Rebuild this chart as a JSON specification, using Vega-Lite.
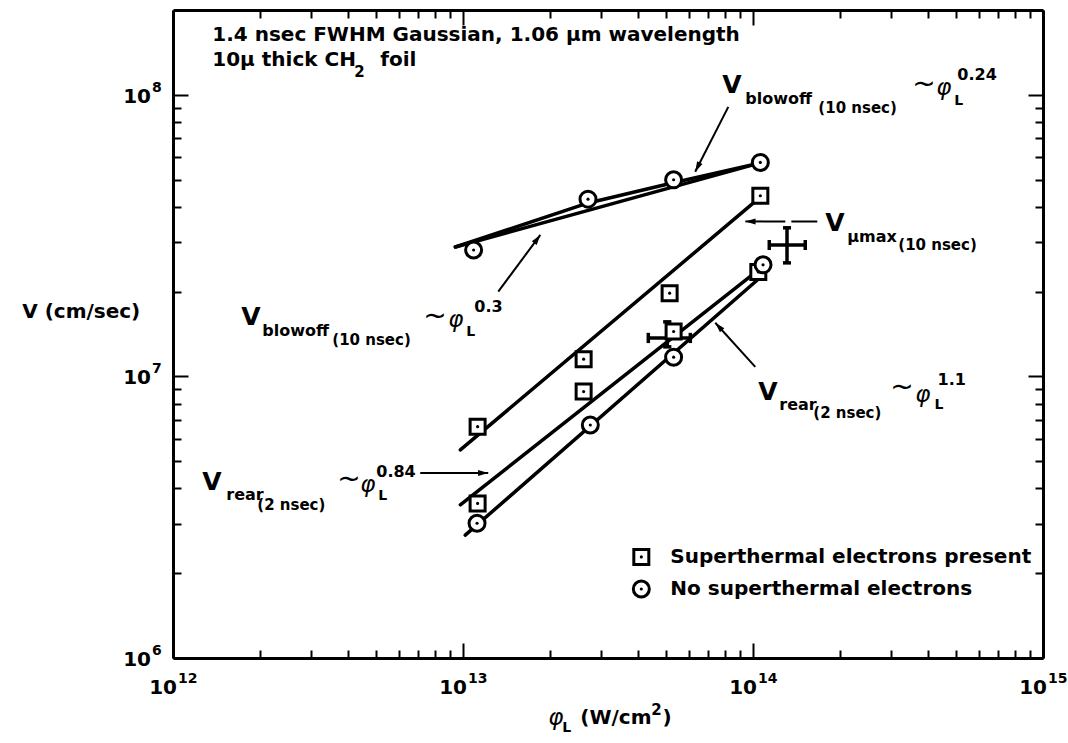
{
  "$schema": "https://vega.github.io/schema/vega-lite/v6.json",
  "width": 870,
  "height": 648,
  "autosize": {"type": "none"},
  "padding": {"left": 173, "top": 10, "right": 25, "bottom": 85},
  "background": "white",
  "config": {"view": {"stroke": null}, "font": "DejaVu Sans"},
  "datasets": {
    "pts": [
      {"x": 1.06e14, "y": 4.38e7, "kind": "square"},
      {"x": 5.158e13, "y": 1.975e7, "kind": "square"},
      {"x": 2.606e13, "y": 1.151e7, "kind": "square"},
      {"x": 1.123e13, "y": 6.63e6, "kind": "square"},
      {"x": 5.324e13, "y": 1.443e7, "kind": "square"},
      {"x": 2.606e13, "y": 8.83e6, "kind": "square"},
      {"x": 1.123e13, "y": 3.54e6, "kind": "square"},
      {"x": 1.043e14, "y": 2.35e7, "kind": "square"},
      {"x": 1.088e13, "y": 2.81e7, "kind": "circle"},
      {"x": 2.698e13, "y": 4.26e7, "kind": "circle"},
      {"x": 5.324e13, "y": 4.99e7, "kind": "circle"},
      {"x": 1.06e14, "y": 5.75e7, "kind": "circle"},
      {"x": 1.083e14, "y": 2.49e7, "kind": "circle"},
      {"x": 5.324e13, "y": 1.17e7, "kind": "circle"},
      {"x": 2.748e13, "y": 6.72e6, "kind": "circle"},
      {"x": 1.118e13, "y": 3.01e6, "kind": "circle"}
    ],
    "legend": [
      {"x": 4.12e13, "y": 2.285e6, "kind": "square", "label": "Superthermal electrons present"},
      {"x": 4.12e13, "y": 1.758e6, "kind": "circle", "label": "No superthermal electrons"}
    ],
    "fits": [
      {"series": "A", "x": 9.41e12, "y": 2.88e7},
      {"series": "A", "x": 1.06e14, "y": 5.73e7},
      {"series": "B", "x": 9.41e12, "y": 2.88e7},
      {"series": "B", "x": 2.704e13, "y": 4.13e7},
      {"series": "B", "x": 5.31e13, "y": 4.87e7},
      {"series": "B", "x": 1.06e14, "y": 5.73e7},
      {"series": "C", "x": 9.79e12, "y": 5.48e6},
      {"series": "C", "x": 1.035e14, "y": 4.24e7},
      {"series": "D", "x": 9.79e12, "y": 3.5e6},
      {"series": "D", "x": 1.035e14, "y": 2.37e7},
      {"series": "E", "x": 1.018e13, "y": 2.73e6},
      {"series": "E", "x": 1.035e14, "y": 2.2e7}
    ],
    "arrows": [
      {"id": "a", "x": 8.22e13, "y": 9.06e7},
      {"id": "a", "x": 6.32e13, "y": 5.33e7},
      {"id": "b", "x": 1.323e13, "y": 2.0e7},
      {"id": "b", "x": 1.848e13, "y": 3.18e7},
      {"id": "c", "x": 1.666e14, "y": 3.55e7},
      {"id": "c", "x": 9.41e13, "y": 3.55e7},
      {"id": "d", "x": 7.12e12, "y": 4.54e6},
      {"id": "d", "x": 1.222e13, "y": 4.54e6},
      {"id": "e", "x": 1.018e14, "y": 1.081e7},
      {"id": "e", "x": 7.41e13, "y": 1.55e7}
    ],
    "heads": [
      {"x": 6.32e13, "y": 5.33e7, "angle": 206.9},
      {"x": 1.848e13, "y": 3.18e7, "angle": 36.5},
      {"x": 9.41e13, "y": 3.55e7, "angle": 270},
      {"x": 1.222e13, "y": 4.54e6, "angle": 90},
      {"x": 7.41e13, "y": 1.55e7, "angle": 317.5}
    ],
    "errs": [
      {"x": 1.138e14, "x2": 1.514e14, "y": 2.93e7, "y2": 2.93e7},
      {"x": 1.31e14, "x2": 1.31e14, "y": 2.53e7, "y2": 3.37e7},
      {"x": 1.138e14, "x2": 1.138e14, "y": 2.81e7, "y2": 3.05e7},
      {"x": 1.514e14, "x2": 1.514e14, "y": 2.81e7, "y2": 3.05e7},
      {"x": 1.269e14, "x2": 1.352e14, "y": 2.53e7, "y2": 2.53e7},
      {"x": 1.269e14, "x2": 1.352e14, "y": 3.37e7, "y2": 3.37e7},
      {"x": 4.355e13, "x2": 6.08e13, "y": 1.37e7, "y2": 1.37e7},
      {"x": 5.065e13, "x2": 5.065e13, "y": 1.273e7, "y2": 1.562e7},
      {"x": 4.355e13, "x2": 4.355e13, "y": 1.313e7, "y2": 1.428e7},
      {"x": 6.08e13, "x2": 6.08e13, "y": 1.313e7, "y2": 1.428e7},
      {"x": 4.9e13, "x2": 5.23e13, "y": 1.273e7, "y2": 1.273e7},
      {"x": 4.9e13, "x2": 5.23e13, "y": 1.562e7, "y2": 1.562e7}
    ],
    "xticks": [
      {"x": 1e12, "y": 1e6, "e": "12"},
      {"x": 1e13, "y": 1e6, "e": "13"},
      {"x": 1e14, "y": 1e6, "e": "14"},
      {"x": 1e15, "y": 1e6, "e": "15"}
    ],
    "yticks": [
      {"x": 1e12, "y": 1e6, "e": "6"},
      {"x": 1e12, "y": 1e7, "e": "7"},
      {"x": 1e12, "y": 1e8, "e": "8"}
    ],
    "labels": [
      {"x": 7.84e13, "y": 1.085e8, "text": "V", "role": "V"},
      {"x": 9.41e13, "y": 9.68e7, "text": "blowoff", "role": "sub"},
      {"x": 1.68e14, "y": 8.99e7, "text": "(10 nsec)", "role": "sub2"},
      {"x": 3.542e14, "y": 1.085e8, "text": "~", "role": "tilde"},
      {"x": 4.287e14, "y": 1.059e8, "text": "φ", "role": "phi"},
      {"x": 4.945e14, "y": 9.52e7, "text": "L", "role": "L"},
      {"x": 5.065e14, "y": 1.178e8, "text": "0.24", "role": "exp"},
      {"x": 1.72e12, "y": 1.627e7, "text": "V", "role": "V"},
      {"x": 2.032e12, "y": 1.451e7, "text": "blowoff", "role": "sub"},
      {"x": 3.542e12, "y": 1.348e7, "text": "(10 nsec)", "role": "sub2"},
      {"x": 7.3e12, "y": 1.627e7, "text": "~", "role": "tilde"},
      {"x": 8.9e12, "y": 1.587e7, "text": "φ", "role": "phi"},
      {"x": 1.027e13, "y": 1.439e7, "text": "L", "role": "L"},
      {"x": 1.094e13, "y": 1.766e7, "text": "0.3", "role": "exp"},
      {"x": 1.262e12, "y": 4.22e6, "text": "V", "role": "V"},
      {"x": 1.527e12, "y": 3.79e6, "text": "rear", "role": "sub"},
      {"x": 1.953e12, "y": 3.5e6, "text": "(2 nsec)", "role": "sub2"},
      {"x": 3.687e12, "y": 4.29e6, "text": "~", "role": "tilde"},
      {"x": 4.425e12, "y": 4.12e6, "text": "φ", "role": "phi"},
      {"x": 5.105e12, "y": 3.76e6, "text": "L", "role": "L"},
      {"x": 5.023e12, "y": 4.58e6, "text": "0.84", "role": "exp"},
      {"x": 1.043e14, "y": 8.81e6, "text": "V", "role": "V"},
      {"x": 1.232e14, "y": 7.92e6, "text": "rear", "role": "sub"},
      {"x": 1.614e14, "y": 7.42e6, "text": "(2 nsec)", "role": "sub2"},
      {"x": 2.975e14, "y": 9.1e6, "text": "~", "role": "tilde"},
      {"x": 3.628e14, "y": 8.6e6, "text": "φ", "role": "phi"},
      {"x": 4.229e14, "y": 7.92e6, "text": "L", "role": "L"},
      {"x": 4.33e14, "y": 9.72e6, "text": "1.1", "role": "exp"},
      {"x": 1.775e14, "y": 3.51e7, "text": "V", "role": "V"},
      {"x": 2.115e14, "y": 3.13e7, "text": "μmax", "role": "sub"},
      {"x": 3.17e14, "y": 2.93e7, "text": "(10 nsec)", "role": "sub2"},
      {"x": 1.366e12, "y": 1.634e8, "text": "1.4 nsec FWHM Gaussian, 1.06 μm wavelength", "role": "header"},
      {"x": 1.366e12, "y": 1.331e8, "text": "10μ thick CH", "role": "header"},
      {"x": 4.22e12, "y": 1.207e8, "text": "2", "role": "hsub"},
      {"x": 5.186e12, "y": 1.331e8, "text": "foil", "role": "header"},
      {"x": 3.02e11, "y": 1.695e7, "text": "V (cm/sec)", "role": "header"},
      {"x": 1.968e13, "y": 6.12e5, "text": "φ", "role": "phi"},
      {"x": 2.2e13, "y": 5.64e5, "text": "L", "role": "L"},
      {"x": 2.538e13, "y": 6.12e5, "text": "(W/cm", "role": "header"},
      {"x": 4.46e13, "y": 6.54e5, "text": "2", "role": "hsub"},
      {"x": 4.87e13, "y": 6.12e5, "text": ")", "role": "header"}
    ]
  },
  "encoding": {
    "x": {"field": "x", "type": "quantitative", "scale": {"type": "log", "domain": [1e12, 1e15], "nice": false}, "axis": null},
    "y": {"field": "y", "type": "quantitative", "scale": {"type": "log", "domain": [1e6, 2e8], "nice": false}, "axis": null}
  },
  "layer": [
    {
      "data": {"name": "fits"},
      "mark": {"type": "line", "color": "black", "strokeWidth": 3.5, "strokeCap": "round"},
      "encoding": {
        "x": {"field": "x", "type": "quantitative", "scale": {"type": "log", "domain": [1e12, 1e15], "nice": false},
          "axis": {"orient": "bottom", "values": [1e12,2e12,3e12,4e12,5e12,6e12,7e12,8e12,9e12,1e13,2e13,3e13,4e13,5e13,6e13,7e13,8e13,9e13,1e14,2e14,3e14,4e14,5e14,6e14,7e14,8e14,9e14,1e15],
            "labels": false, "title": null, "grid": false, "domainColor": "black", "domainWidth": 3, "tickColor": "black", "tickWidth": 2,
            "tickSize": {"condition": {"test": "abs(log(datum.value)/LN10 - round(log(datum.value)/LN10)) < 0.01", "value": -15}, "value": -8}}},
        "y": {"field": "y", "type": "quantitative", "scale": {"type": "log", "domain": [1e6, 2e8], "nice": false},
          "axis": {"orient": "left", "values": [1e6,2e6,3e6,4e6,5e6,6e6,7e6,8e6,9e6,1e7,2e7,3e7,4e7,5e7,6e7,7e7,8e7,9e7,1e8],
            "labels": false, "title": null, "grid": false, "domainColor": "black", "domainWidth": 3, "tickColor": "black", "tickWidth": 2,
            "tickSize": {"condition": {"test": "abs(log(datum.value)/LN10 - round(log(datum.value)/LN10)) < 0.01", "value": -15}, "value": -8}}},
        "detail": {"field": "series"}
      }
    },
    {
      "data": {"name": "arrows"},
      "transform": [{"filter": "datum.id != 'c'"}],
      "mark": {"type": "line", "color": "black", "strokeWidth": 2},
      "encoding": {"detail": {"field": "id"}}
    },
    {
      "data": {"name": "arrows"},
      "transform": [{"filter": "datum.id == 'c'"}],
      "mark": {"type": "line", "color": "black", "strokeWidth": 2, "strokeDash": [40, 6]},
      "encoding": {"detail": {"field": "id"}}
    },
    {
      "data": {"name": "heads"},
      "mark": {"type": "point", "shape": "M0,0L0.5,1.7L-0.5,1.7Z", "filled": true, "color": "black", "size": 144, "opacity": 1},
      "encoding": {"angle": {"field": "angle", "type": "quantitative", "scale": null}}
    },
    {
      "data": {"name": "errs"},
      "mark": {"type": "rule", "color": "black", "strokeWidth": 3.5},
      "encoding": {"x2": {"field": "x2"}, "y2": {"field": "y2"}}
    },
    {
      "data": {"name": "pts"},
      "mark": {"type": "point", "filled": true, "fill": "white", "stroke": "black", "strokeWidth": 3, "opacity": 1},
      "encoding": {
        "x": {"field": "x", "type": "quantitative", "scale": {"type": "log", "domain": [1e12, 1e15], "nice": false},
          "axis": {"orient": "top", "values": [1e12,2e12,3e12,4e12,5e12,6e12,7e12,8e12,9e12,1e13,2e13,3e13,4e13,5e13,6e13,7e13,8e13,9e13,1e14,2e14,3e14,4e14,5e14,6e14,7e14,8e14,9e14,1e15],
            "labels": false, "title": null, "grid": false, "domainColor": "black", "domainWidth": 3, "tickColor": "black", "tickWidth": 2,
            "tickSize": {"condition": {"test": "abs(log(datum.value)/LN10 - round(log(datum.value)/LN10)) < 0.01", "value": -15}, "value": -8}}},
        "y": {"field": "y", "type": "quantitative", "scale": {"type": "log", "domain": [1e6, 2e8], "nice": false},
          "axis": {"orient": "right", "values": [1e6,2e6,3e6,4e6,5e6,6e6,7e6,8e6,9e6,1e7,2e7,3e7,4e7,5e7,6e7,7e7,8e7,9e7,1e8],
            "labels": false, "title": null, "grid": false, "domainColor": "black", "domainWidth": 3, "tickColor": "black", "tickWidth": 2,
            "tickSize": {"condition": {"test": "abs(log(datum.value)/LN10 - round(log(datum.value)/LN10)) < 0.01", "value": -15}, "value": -8}}},
        "shape": {"field": "kind", "type": "nominal", "scale": {"domain": ["square", "circle"], "range": ["square", "circle"]}, "legend": null},
        "size": {"field": "kind", "type": "ordinal", "scale": {"domain": ["square", "circle"], "range": [225, 256]}, "legend": null}
      }
    },
    {
      "data": {"name": "pts"},
      "mark": {"type": "point", "shape": "circle", "filled": true, "color": "black", "size": 10, "opacity": 1}
    },
    {
      "data": {"name": "legend"},
      "mark": {"type": "point", "filled": true, "fill": "white", "stroke": "black", "strokeWidth": 3, "opacity": 1},
      "encoding": {
        "shape": {"field": "kind", "type": "nominal", "scale": {"domain": ["square", "circle"], "range": ["square", "circle"]}, "legend": null},
        "size": {"field": "kind", "type": "ordinal", "scale": {"domain": ["square", "circle"], "range": [225, 256]}, "legend": null}
      }
    },
    {
      "data": {"name": "legend"},
      "mark": {"type": "point", "shape": "circle", "filled": true, "color": "black", "size": 10, "opacity": 1}
    },
    {
      "data": {"name": "legend"},
      "mark": {"type": "text", "align": "left", "baseline": "middle", "dx": 29, "fontSize": 20, "fontWeight": "bold", "color": "black"},
      "encoding": {"text": {"field": "label"}}
    },
    {
      "data": {"name": "xticks"},
      "mark": {"type": "text", "align": "right", "baseline": "middle", "dx": 4, "dy": 30, "fontSize": 20, "fontWeight": "bold", "color": "black", "text": "10"}
    },
    {
      "data": {"name": "xticks"},
      "mark": {"type": "text", "align": "left", "baseline": "middle", "dx": 5, "dy": 21, "fontSize": 14, "fontWeight": "bold", "color": "black"},
      "encoding": {"text": {"field": "e"}}
    },
    {
      "data": {"name": "yticks"},
      "mark": {"type": "text", "align": "right", "baseline": "middle", "dx": -22, "dy": 2, "fontSize": 20, "fontWeight": "bold", "color": "black", "text": "10"}
    },
    {
      "data": {"name": "yticks"},
      "mark": {"type": "text", "align": "left", "baseline": "middle", "dx": -21, "dy": -7, "fontSize": 14, "fontWeight": "bold", "color": "black"},
      "encoding": {"text": {"field": "e"}}
    },
    {
      "data": {"name": "labels"},
      "transform": [{"filter": "datum.role == 'V'"}],
      "mark": {"type": "text", "align": "left", "baseline": "middle", "fontSize": 25, "fontWeight": "bold", "color": "black"},
      "encoding": {"text": {"field": "text"}}
    },
    {
      "data": {"name": "labels"},
      "transform": [{"filter": "datum.role == 'sub'"}],
      "mark": {"type": "text", "align": "left", "baseline": "middle", "fontSize": 16, "fontWeight": "bold", "color": "black"},
      "encoding": {"text": {"field": "text"}}
    },
    {
      "data": {"name": "labels"},
      "transform": [{"filter": "datum.role == 'sub2'"}],
      "mark": {"type": "text", "align": "left", "baseline": "middle", "fontSize": 15, "fontWeight": "bold", "color": "black"},
      "encoding": {"text": {"field": "text"}}
    },
    {
      "data": {"name": "labels"},
      "transform": [{"filter": "datum.role == 'tilde'"}],
      "mark": {"type": "text", "align": "left", "baseline": "middle", "fontSize": 28, "color": "black"},
      "encoding": {"text": {"field": "text"}}
    },
    {
      "data": {"name": "labels"},
      "transform": [{"filter": "datum.role == 'phi'"}],
      "mark": {"type": "text", "align": "left", "baseline": "middle", "fontSize": 23, "fontStyle": "italic", "color": "black"},
      "encoding": {"text": {"field": "text"}}
    },
    {
      "data": {"name": "labels"},
      "transform": [{"filter": "datum.role == 'L'"}],
      "mark": {"type": "text", "align": "left", "baseline": "middle", "fontSize": 14, "fontWeight": "bold", "color": "black"},
      "encoding": {"text": {"field": "text"}}
    },
    {
      "data": {"name": "labels"},
      "transform": [{"filter": "datum.role == 'exp'"}],
      "mark": {"type": "text", "align": "left", "baseline": "middle", "fontSize": 16, "fontWeight": "bold", "color": "black"},
      "encoding": {"text": {"field": "text"}}
    },
    {
      "data": {"name": "labels"},
      "transform": [{"filter": "datum.role == 'header'"}],
      "mark": {"type": "text", "align": "left", "baseline": "middle", "fontSize": 20, "fontWeight": "bold", "color": "black"},
      "encoding": {"text": {"field": "text"}}
    },
    {
      "data": {"name": "labels"},
      "transform": [{"filter": "datum.role == 'hsub'"}],
      "mark": {"type": "text", "align": "left", "baseline": "middle", "fontSize": 15, "fontWeight": "bold", "color": "black"},
      "encoding": {"text": {"field": "text"}}
    }
  ],
  "resolve": {"axis": {"x": "independent", "y": "independent"}}
}
